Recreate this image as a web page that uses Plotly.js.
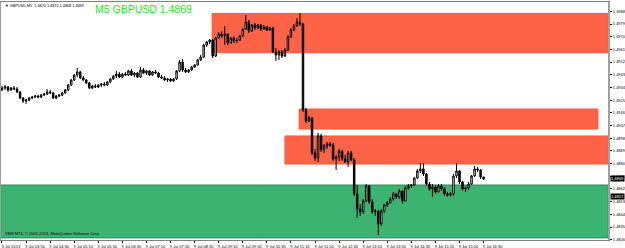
<!DOCTYPE html>
<html><head><meta charset="utf-8">
<script src="https://cdn.plot.ly/plotly-3.0.1.min.js"></script>
<style>html,body{margin:0;padding:0;background:#fff;}#chart{width:625px;height:248px;}</style>
</head><body><div id="chart"></div>
<script>
// GBPUSD M5, 9 Jul 2013, 03:10 .. 16:30 (one bar per 5 minutes)
const openPrices = [
1.49322,1.49336,1.49343,1.49322,1.49336,1.49329,1.49308,1.49265,1.49244,1.49251,
1.49265,1.49272,1.49279,1.49272,1.49286,1.49294,1.49308,1.49301,1.49265,1.49279,
1.49286,1.49301,1.49322,1.49357,1.49393,1.49428,1.49450,1.49407,1.49393,1.49372,
1.49336,1.49350,1.49343,1.49357,1.49364,1.49357,1.49379,1.49400,1.49421,1.49435,
1.49414,1.49435,1.49428,1.49457,1.49428,1.49442,1.49414,1.49464,1.49442,1.49457,
1.49428,1.49450,1.49442,1.49414,1.49407,1.49393,1.49400,1.49386,1.49400,1.49457,
1.49520,1.49464,1.49450,1.49464,1.49485,1.49499,1.49535,1.49556,1.49641,1.49662,
1.49676,1.49563,1.49691,1.49719,1.49705,1.49719,1.49655,1.49691,1.49669,1.49676,
1.49705,1.49754,1.49804,1.49740,1.49783,1.49762,1.49783,1.49754,1.49769,1.49747,
1.49762,1.49591,1.49570,1.49591,1.49563,1.49606,1.49698,1.49747,1.49776,1.49804,
1.49790,1.49180,1.49102,1.49123,1.48875,1.48840,1.48996,1.48897,1.48925,1.48939,
1.48932,1.48833,1.48847,1.48889,1.48833,1.48811,1.48875,1.48826,1.48585,1.48478,
1.48457,1.48535,1.48641,1.48528,1.48457,1.48464,1.48372,1.48464,1.48507,1.48521,
1.48549,1.48585,1.48563,1.48606,1.48535,1.48627,1.48641,1.48648,1.48698,1.48748,
1.48762,1.48726,1.48655,1.48620,1.48634,1.48599,1.48641,1.48620,1.48585,1.48577,
1.48585,1.48712,1.48748,1.48670,1.48620,1.48627,1.48655,1.48712,1.48762,1.48755,
1.48705];
const highPrices = [
1.49350,1.49357,1.49350,1.49343,1.49350,1.49343,1.49315,1.49272,1.49258,1.49272,
1.49279,1.49286,1.49286,1.49294,1.49301,1.49329,1.49322,1.49308,1.49286,1.49294,
1.49308,1.49329,1.49364,1.49400,1.49435,1.49478,1.49457,1.49421,1.49400,1.49379,
1.49357,1.49364,1.49364,1.49372,1.49379,1.49386,1.49407,1.49428,1.49457,1.49450,
1.49442,1.49450,1.49464,1.49471,1.49450,1.49450,1.49485,1.49478,1.49464,1.49464,
1.49457,1.49464,1.49450,1.49428,1.49421,1.49407,1.49407,1.49407,1.49464,1.49535,
1.49542,1.49478,1.49471,1.49492,1.49506,1.49542,1.49570,1.49648,1.49669,1.49684,
1.49684,1.49698,1.49733,1.49740,1.49776,1.49726,1.49698,1.49705,1.49691,1.49712,
1.49762,1.49854,1.49818,1.49790,1.49797,1.49790,1.49790,1.49783,1.49776,1.49769,
1.49769,1.49620,1.49606,1.49606,1.49620,1.49712,1.49762,1.49790,1.49832,1.49868,
1.49797,1.49194,1.49138,1.49131,1.48904,1.49017,1.49010,1.48939,1.48953,1.48953,
1.48946,1.48861,1.48904,1.48897,1.48861,1.48889,1.48889,1.48840,1.48648,1.48514,
1.48549,1.48655,1.48648,1.48549,1.48478,1.48471,1.48478,1.48514,1.48535,1.48563,
1.48599,1.48592,1.48620,1.48613,1.48641,1.48655,1.48655,1.48705,1.48762,1.48804,
1.48804,1.48733,1.48670,1.48655,1.48648,1.48655,1.48655,1.48634,1.48599,1.48599,
1.48726,1.48804,1.48755,1.48677,1.48641,1.48670,1.48719,1.48783,1.48776,1.48762,
1.48705];
const lowPrices = [
1.49315,1.49322,1.49308,1.49315,1.49322,1.49301,1.49258,1.49230,1.49223,1.49244,
1.49258,1.49265,1.49265,1.49265,1.49279,1.49286,1.49294,1.49258,1.49258,1.49272,
1.49279,1.49294,1.49315,1.49350,1.49386,1.49414,1.49400,1.49386,1.49364,1.49329,
1.49329,1.49336,1.49336,1.49343,1.49350,1.49350,1.49372,1.49393,1.49407,1.49407,
1.49407,1.49421,1.49421,1.49421,1.49414,1.49407,1.49407,1.49435,1.49428,1.49421,
1.49421,1.49435,1.49407,1.49400,1.49386,1.49379,1.49379,1.49379,1.49393,1.49450,
1.49450,1.49442,1.49442,1.49457,1.49478,1.49492,1.49528,1.49549,1.49627,1.49648,
1.49549,1.49556,1.49684,1.49691,1.49641,1.49641,1.49648,1.49655,1.49655,1.49669,
1.49698,1.49747,1.49726,1.49733,1.49747,1.49754,1.49740,1.49747,1.49740,1.49740,
1.49584,1.49528,1.49535,1.49549,1.49556,1.49598,1.49691,1.49740,1.49769,1.49776,
1.49166,1.49088,1.49095,1.48861,1.48819,1.48811,1.48882,1.48875,1.48904,1.48918,
1.48819,1.48755,1.48819,1.48819,1.48804,1.48776,1.48819,1.48570,1.48414,1.48429,
1.48443,1.48528,1.48514,1.48443,1.48429,1.48294,1.48358,1.48450,1.48492,1.48514,
1.48535,1.48549,1.48549,1.48514,1.48528,1.48613,1.48627,1.48641,1.48691,1.48733,
1.48712,1.48641,1.48606,1.48563,1.48585,1.48592,1.48606,1.48570,1.48563,1.48563,
1.48570,1.48698,1.48655,1.48606,1.48599,1.48613,1.48648,1.48705,1.48741,1.48691,
1.48684];
const closePrices = [
1.49336,1.49343,1.49322,1.49336,1.49329,1.49308,1.49265,1.49244,1.49251,1.49265,
1.49272,1.49279,1.49272,1.49286,1.49294,1.49308,1.49301,1.49265,1.49279,1.49286,
1.49301,1.49322,1.49357,1.49393,1.49428,1.49450,1.49407,1.49393,1.49372,1.49336,
1.49350,1.49343,1.49357,1.49364,1.49357,1.49379,1.49400,1.49421,1.49435,1.49414,
1.49435,1.49428,1.49457,1.49428,1.49442,1.49414,1.49464,1.49442,1.49457,1.49428,
1.49450,1.49442,1.49414,1.49407,1.49393,1.49400,1.49386,1.49400,1.49457,1.49520,
1.49464,1.49450,1.49464,1.49485,1.49499,1.49535,1.49556,1.49641,1.49662,1.49676,
1.49563,1.49691,1.49719,1.49705,1.49719,1.49655,1.49691,1.49669,1.49676,1.49705,
1.49754,1.49804,1.49740,1.49783,1.49762,1.49783,1.49754,1.49769,1.49747,1.49762,
1.49591,1.49570,1.49591,1.49563,1.49606,1.49698,1.49747,1.49776,1.49804,1.49790,
1.49180,1.49102,1.49123,1.48875,1.48840,1.48996,1.48897,1.48925,1.48939,1.48932,
1.48833,1.48847,1.48889,1.48833,1.48811,1.48875,1.48826,1.48585,1.48478,1.48457,
1.48535,1.48641,1.48528,1.48457,1.48464,1.48372,1.48464,1.48507,1.48521,1.48549,
1.48585,1.48563,1.48606,1.48535,1.48627,1.48641,1.48648,1.48698,1.48748,1.48762,
1.48726,1.48655,1.48620,1.48634,1.48599,1.48641,1.48620,1.48585,1.48577,1.48585,
1.48712,1.48748,1.48670,1.48620,1.48627,1.48655,1.48712,1.48762,1.48755,1.48705,
1.48691];

const xTickLabels = ["9 Jul 2013","9 Jul 03:50","9 Jul 04:30","9 Jul 05:10","9 Jul 05:50","9 Jul 06:30",
  "9 Jul 07:10","9 Jul 07:50","9 Jul 08:30","9 Jul 09:10","9 Jul 09:50","9 Jul 10:30","9 Jul 11:10",
  "9 Jul 11:50","9 Jul 12:30","9 Jul 13:10","9 Jul 13:50","9 Jul 14:30","9 Jul 15:10","9 Jul 15:50","9 Jul 16:30"];
const barsPerLabel = 8;
const yTickValues = [1.4988,1.4979,1.4970,1.4961,1.4952,1.4943,1.4934,1.4925,1.4916,1.4907,
  1.4898,1.4889,1.4880,1.4871,1.4862,1.4853,1.4844,1.4835,1.4826];

// supply / demand zones (bar index from, bar index to, upper price, lower price)
const zoneFrom  = [69.8, 98.7, 94.0, -0.4];
const zoneTo    = [201.4, 198.0, 201.4, 201.4];
const zoneUpper = [1.49865, 1.49187, 1.48996, 1.48648];
const zoneLower = [1.49586, 1.49045, 1.48797, 1.48273];
const zoneKind  = ["supply","supply","supply","demand"];
const levelLine = 1.48570;
const lastPrice = 1.48691;
const symbolTitle = "M5 GBPUSD 1.4869";
const headerText = "\u25BC GBPUSD,M5  1.4870 1.4870 1.4868 1.4869";
const footerText = "XEM MT4, \u00A9 2001-2013, MetaQuotes Software Corp.";

const barIdx = openPrices.map((_, i) => i);
const xTickVals = xTickLabels.map((_, k) => k * barsPerLabel);

const trace = {
  type: 'candlestick', x: barIdx,
  open: openPrices, high: highPrices, low: lowPrices, close: closePrices,
  increasing: {line: {color: '#000000', width: 1}, fillcolor: '#ffffff'},
  decreasing: {line: {color: '#000000', width: 1}, fillcolor: '#000000'},
  whiskerwidth: 0, hoverinfo: 'skip', showlegend: false
};

const shapes = zoneFrom.map((x0, i) => ({
  type: 'rect', xref: 'x', yref: 'y', layer: 'below',
  x0: x0, x1: zoneTo[i], y0: zoneLower[i], y1: zoneUpper[i],
  fillcolor: zoneKind[i] === 'supply' ? '#ff6347' : '#3cb371',
  line: {color: zoneKind[i] === 'supply' ? '#ff5a3c' : '#2e8b57', width: 1}
}));
shapes.push({type: 'line', xref: 'paper', yref: 'y', layer: 'below',
  x0: 0, x1: 1, y0: levelLine, y1: levelLine, line: {color: '#8a8a8a', width: 1}});

const F = 'Liberation Sans, Arial, sans-serif';
const layout = {
  width: 625, height: 248,
  margin: {l: 1, r: 17, t: 2, b: 8, pad: 0},
  paper_bgcolor: '#ffffff', plot_bgcolor: '#ffffff',
  font: {family: F, color: '#000000'},
  showlegend: false,
  xaxis: {
    range: [-0.33, 201.33], showgrid: false, zeroline: false,
    rangeslider: {visible: false},
    showline: true, linecolor: '#808080', linewidth: 1, mirror: true,
    tickmode: 'array', tickvals: xTickVals, ticktext: xTickLabels,
    ticks: 'outside', ticklen: 2, tickcolor: '#000000', tickangle: 0,
    tickfont: {size: 4, color: '#000000', family: F}, ticklabelshift: 9, ticklabelstandoff: 0
  },
  yaxis: {
    range: [1.48258, 1.49946], side: 'right', showgrid: false, zeroline: false,
    showline: true, linecolor: '#a0a0a0', linewidth: 2, mirror: true,
    tickmode: 'array', tickvals: yTickValues, tickformat: '.4f',
    ticks: 'outside', ticklen: 2, tickcolor: '#000000',
    tickfont: {size: 4, color: '#000000', family: F}, ticklabelstandoff: 0
  },
  shapes: shapes,
  annotations: [
    {xref: 'paper', yref: 'paper', x: 0.151, y: 1.003, xanchor: 'left', yanchor: 'top',
     text: symbolTitle, showarrow: false, font: {size: 10.5, color: '#22ee22', family: F}},
    {xref: 'paper', yref: 'paper', x: 0.003, y: 1, xanchor: 'left', yanchor: 'top',
     text: headerText, showarrow: false, font: {size: 3.8, color: '#000000', family: F}},
    {xref: 'paper', yref: 'paper', x: 0.003, y: 0.01, xanchor: 'left', yanchor: 'bottom',
     text: footerText, showarrow: false, font: {size: 4, color: '#000000', family: F}},
    {xref: 'paper', yref: 'y', x: 1.003, y: lastPrice, xanchor: 'left', yanchor: 'middle',
     text: lastPrice.toFixed(4), showarrow: false, bgcolor: '#000000', borderpad: 0,
     font: {size: 4, color: '#ffffff', family: F}},
    {xref: 'paper', yref: 'y', x: 1.003, y: levelLine, xanchor: 'left', yanchor: 'middle',
     text: levelLine.toFixed(4), showarrow: false, bgcolor: '#000000', borderpad: 0,
     font: {size: 4, color: '#ffffff', family: F}}
  ]
};

Plotly.newPlot('chart', [trace], layout, {displayModeBar: false, staticPlot: true});
</script>
</body></html>
